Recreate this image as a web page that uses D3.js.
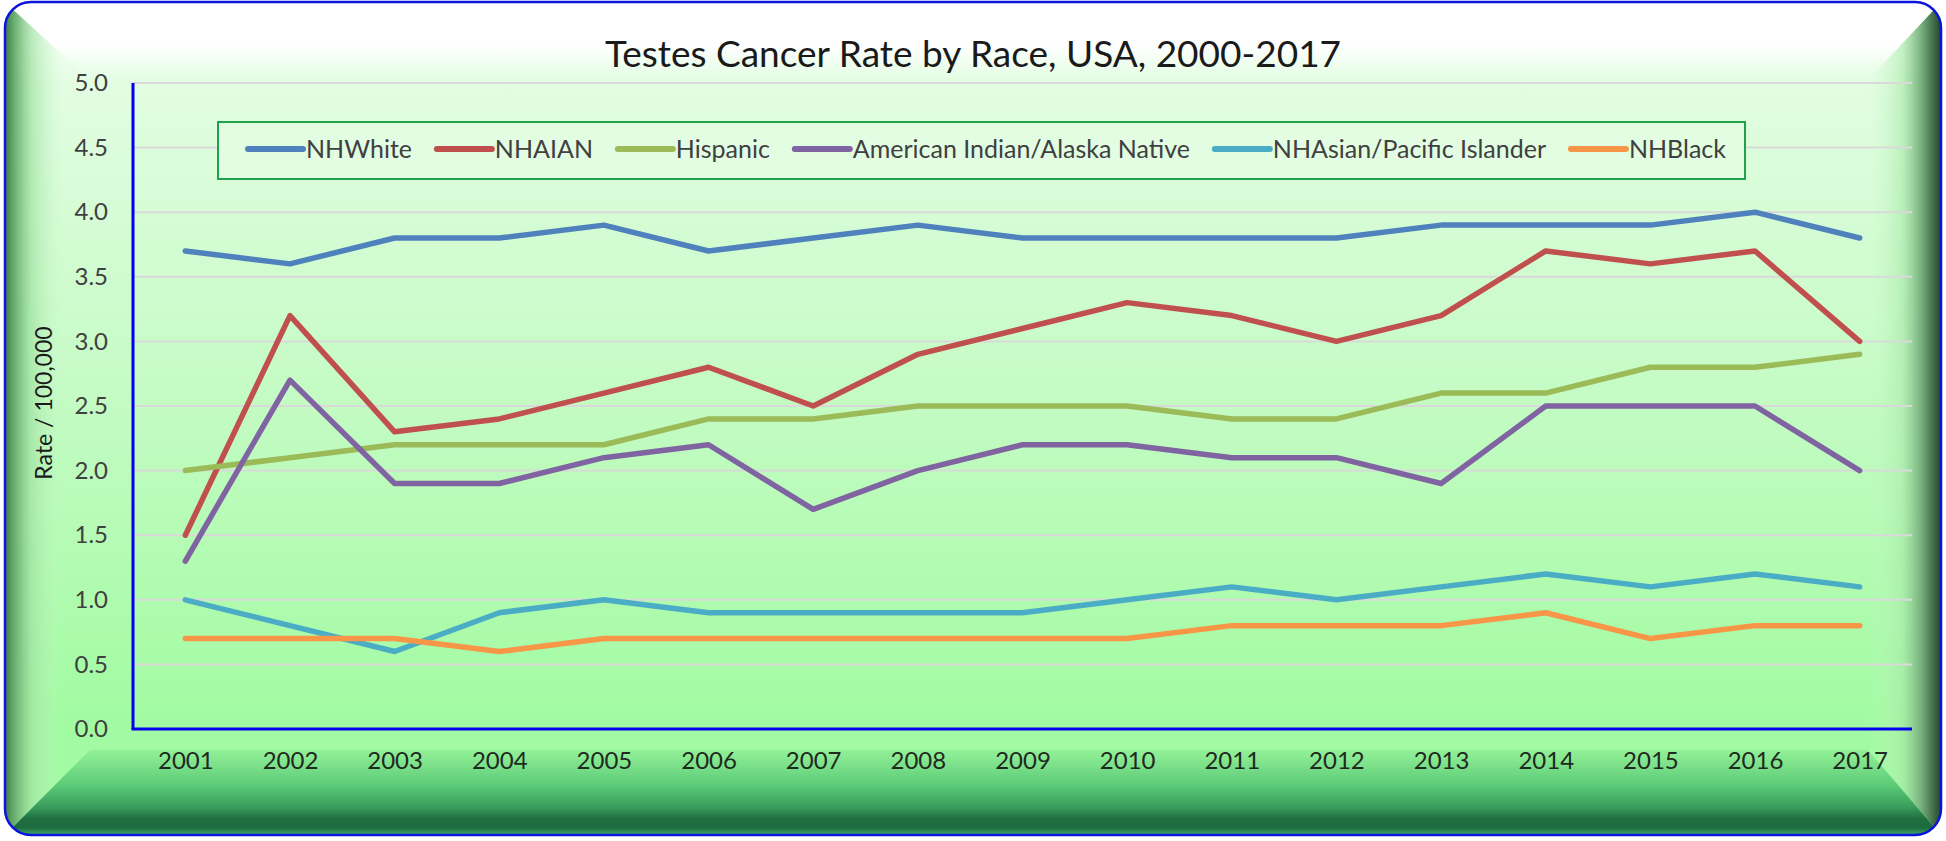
<!DOCTYPE html>
<html>
<head>
<meta charset="utf-8">
<script src="https://cdn.jsdelivr.net/npm/d3@7"></script>
<style>
  html, body { margin: 0; padding: 0; background: #ffffff; }
  svg { display: block; font-family: Lato, "Open Sans", sans-serif; }
</style>
</head>
<body>
<svg id="chart" width="1946" height="841"></svg>
<script>
// data
var years = ["2001", "2002", "2003", "2004", "2005", "2006", "2007", "2008", "2009",
  "2010", "2011", "2012", "2013", "2014", "2015", "2016", "2017"];

var nhWhite = [3.7, 3.6, 3.8, 3.8, 3.9, 3.7, 3.8, 3.9, 3.8, 3.8, 3.8, 3.8, 3.9, 3.9, 3.9, 4.0, 3.8];
var nhAian = [1.5, 3.2, 2.3, 2.4, 2.6, 2.8, 2.5, 2.9, 3.1, 3.3, 3.2, 3.0, 3.2, 3.7, 3.6, 3.7, 3.0];
var hispanic = [2.0, 2.1, 2.2, 2.2, 2.2, 2.4, 2.4, 2.5, 2.5, 2.5, 2.4, 2.4, 2.6, 2.6, 2.8, 2.8, 2.9];
var aian = [1.3, 2.7, 1.9, 1.9, 2.1, 2.2, 1.7, 2.0, 2.2, 2.2, 2.1, 2.1, 1.9, 2.5, 2.5, 2.5, 2.0];
var nhAsianPi = [1.0, 0.8, 0.6, 0.9, 1.0, 0.9, 0.9, 0.9, 0.9, 1.0, 1.1, 1.0, 1.1, 1.2, 1.1, 1.2, 1.1];
var nhBlack = [0.7, 0.7, 0.7, 0.6, 0.7, 0.7, 0.7, 0.7, 0.7, 0.7, 0.8, 0.8, 0.8, 0.9, 0.7, 0.8, 0.8];

var seriesNames = ["NHWhite", "NHAIAN", "Hispanic", "American Indian/Alaska Native",
  "NHAsian/Pacific Islander", "NHBlack"];
var seriesValues = [nhWhite, nhAian, hispanic, aian, nhAsianPi, nhBlack];
var seriesColors = ["#4f81bd", "#c0504d", "#9bbb59", "#8064a2", "#4bacc6", "#f79646"];

var yTicks = [0, 0.5, 1, 1.5, 2, 2.5, 3, 3.5, 4, 4.5, 5];

var chartTitle = "Testes Cancer Rate by Race, USA, 2000-2017";
var yTitle = "Rate / 100,000";

// layout
var card = { x: 5, y: 2, w: 1936, h: 833, r: 26 };
var inner = { l: 90, t: 80, r: 1868, b: 750 };
var plot = { l: 133, t: 83, r: 1912, b: 729 };

var svg = d3.select("#chart");
var defs = svg.append("defs");

function grad(id, x1, y1, x2, y2, stops) {
  var g = defs.append("linearGradient").attr("id", id)
    .attr("gradientUnits", "userSpaceOnUse")
    .attr("x1", x1).attr("y1", y1).attr("x2", x2).attr("y2", y2);
  stops.forEach(function (s) {
    g.append("stop").attr("offset", s[0]).attr("stop-color", s[1])
      .attr("stop-opacity", s.length > 2 ? s[2] : 1);
  });
}

grad("bgGrad", 0, card.y, 0, card.y + card.h, [
  [0, "#ffffff"], [0.1, "#e2fde2"], [0.5, "#c2fbc2"], [0.86, "#a2fba2"], [1, "#a2fba2"]
]);
grad("topGrad", 0, card.y, 0, inner.t, [
  [0, "#ffffff"], [0.55, "#ffffff"], [1, "#e2fde2"]
]);
grad("leftGrad", card.x, 0, 62, 0, [
  [0, "#3f7a47"], [0.12, "#5fa365"], [0.45, "#9ddf9f", 0.7], [1, "#c8f8c8", 0]
]);
grad("rightGrad", 1870, 0, card.x + card.w, 0, [
  [0, "#c8f8c8", 0], [0.45, "#a8e8a8", 0.6], [0.75, "#6fa676"], [0.9, "#3f6b45"], [1, "#27452c"]
]);
grad("bottomGrad", 0, inner.b - 15, 0, card.y + card.h, [
  [0, "#a2fba2"], [0.2, "#8cec93"], [0.5, "#5ccb78"], [0.72, "#3a9d5c"],
  [0.84, "#1f6d40"], [0.93, "#1d6b3e"], [1, "#45ad6c"]
]);

defs.append("clipPath").attr("id", "cardClip")
  .append("rect")
  .attr("x", card.x).attr("y", card.y)
  .attr("width", card.w).attr("height", card.h)
  .attr("rx", card.r).attr("ry", card.r);

// beveled card background
var bg = svg.append("g").attr("clip-path", "url(#cardClip)");
bg.append("rect")
  .attr("x", card.x).attr("y", card.y)
  .attr("width", card.w).attr("height", card.h)
  .attr("fill", "url(#bgGrad)");

var x0 = card.x, y0 = card.y, x1 = card.x + card.w, y1 = card.y + card.h;

bg.append("polygon")
  .attr("points", [[x0, y0], [inner.l, inner.t], [inner.l, inner.b], [x0, y1]].join(" "))
  .attr("fill", "url(#leftGrad)");
bg.append("polygon")
  .attr("points", [[x1, y0], [inner.r, inner.t], [inner.r, inner.b], [x1, y1]].join(" "))
  .attr("fill", "url(#rightGrad)");
bg.append("polygon")
  .attr("points", [[x0, y1], [inner.l, inner.b], [inner.r, inner.b], [x1, y1]].join(" "))
  .attr("fill", "url(#bottomGrad)");
bg.append("polygon")
  .attr("points", [[x0, y0], [x1, y0], [inner.r, inner.t], [inner.l, inner.t]].join(" "))
  .attr("fill", "url(#topGrad)");

svg.append("rect")
  .attr("x", card.x).attr("y", card.y)
  .attr("width", card.w).attr("height", card.h)
  .attr("rx", card.r).attr("ry", card.r)
  .attr("fill", "none")
  .attr("stroke", "#0a14dc")
  .attr("stroke-width", 2.5);

// scales
var x = d3.scalePoint()
  .domain(years)
  .range([plot.l, plot.r])
  .padding(0.5);

var y = d3.scaleLinear()
  .domain([0, 5])
  .range([plot.b, plot.t]);

// gridlines
svg.append("g")
  .attr("class", "grid")
  .selectAll("line")
  .data(yTicks.filter(function (d) { return d > 0; }))
  .enter().append("line")
  .attr("x1", plot.l)
  .attr("x2", plot.r)
  .attr("y1", function (d) { return y(d); })
  .attr("y2", function (d) { return y(d); })
  .style("stroke", "#d9d9d9")
  .style("stroke-width", "2px");

// y axis labels
var yAxis = svg.append("g")
  .attr("transform", "translate(" + plot.l + ",0)")
  .call(d3.axisLeft(y).tickValues(yTicks).tickFormat(d3.format(".1f")).tickSize(0).tickPadding(25));
yAxis.select(".domain").remove();
yAxis.selectAll("text")
  .style("font-family", "Lato, sans-serif")
  .style("font-size", "24px")
  .style("fill", "#404040");

// x axis labels
var xAxis = svg.append("g")
  .attr("transform", "translate(0," + plot.b + ")")
  .call(d3.axisBottom(x).tickSize(0).tickPadding(23));
xAxis.select(".domain").remove();
xAxis.selectAll("text")
  .style("font-family", "Lato, sans-serif")
  .style("font-size", "24px")
  .style("fill", "#1f2a1f");

// axis lines
svg.append("line")
  .attr("x1", plot.l).attr("x2", plot.l)
  .attr("y1", plot.t).attr("y2", plot.b)
  .style("stroke", "#0000ee")
  .style("stroke-width", "3px");
svg.append("line")
  .attr("x1", plot.l - 1.5).attr("x2", plot.r)
  .attr("y1", plot.b).attr("y2", plot.b)
  .style("stroke", "#0000ee")
  .style("stroke-width", "3px");

// series lines
var line = d3.line()
  .x(function (d, i) { return x(years[i]); })
  .y(function (d) { return y(d); });

svg.append("g")
  .attr("class", "series")
  .selectAll("path")
  .data(seriesValues)
  .enter().append("path")
  .attr("d", line)
  .style("fill", "none")
  .style("stroke", function (d, i) { return seriesColors[i]; })
  .style("stroke-width", "5.5px")
  .style("stroke-linecap", "round")
  .style("stroke-linejoin", "round");

// title
svg.append("text")
  .attr("x", 973)
  .attr("y", 67)
  .attr("text-anchor", "middle")
  .style("font-family", "Lato, sans-serif")
  .style("font-size", "37px")
  .style("fill", "#1a1a1a")
  .text(chartTitle);

// y axis title
svg.append("text")
  .attr("transform", "translate(52,403) rotate(-90)")
  .attr("text-anchor", "middle")
  .style("font-family", "Lato, sans-serif")
  .style("font-size", "23px")
  .style("fill", "#1a1a1a")
  .text(yTitle);

// legend
var legendBox = { x: 218, y: 122, w: 1527, h: 57 };
var legend = svg.append("g").attr("class", "legend");
legend.append("rect")
  .attr("x", legendBox.x).attr("y", legendBox.y)
  .attr("width", legendBox.w).attr("height", legendBox.h)
  .style("fill", "#e2fde2")
  .style("stroke", "#1fa24a")
  .style("stroke-width", "2px");

var symbolLen = 61, padL = 27, padR = 19;
var items = legend.selectAll("g.item")
  .data(seriesNames)
  .enter().append("g")
  .attr("class", "item");

items.append("text")
  .attr("class", "label")
  .attr("y", legendBox.y + 27)
  .attr("dy", "0.35em")
  .style("font-family", "Lato, sans-serif")
  .style("font-size", "25px")
  .style("fill", "#404040")
  .text(function (d) { return d; });

var widths = [];
items.select("text").each(function () { widths.push(this.getComputedTextLength()); });
var room = legendBox.w - padL - padR;
var itemGap = (room - d3.sum(widths) - seriesNames.length * symbolLen) / (seriesNames.length - 1);
var cursor = legendBox.x + padL;

items.each(function (d, i) {
  var g = d3.select(this);
  g.append("line")
    .attr("x1", cursor + 3).attr("x2", cursor + symbolLen - 3)
    .attr("y1", legendBox.y + 27).attr("y2", legendBox.y + 27)
    .style("stroke", seriesColors[i])
    .style("stroke-width", "6px")
    .style("stroke-linecap", "round");
  g.select("text").attr("x", cursor + symbolLen);
  cursor += symbolLen + widths[i] + itemGap;
});
</script>
</body>
</html>
